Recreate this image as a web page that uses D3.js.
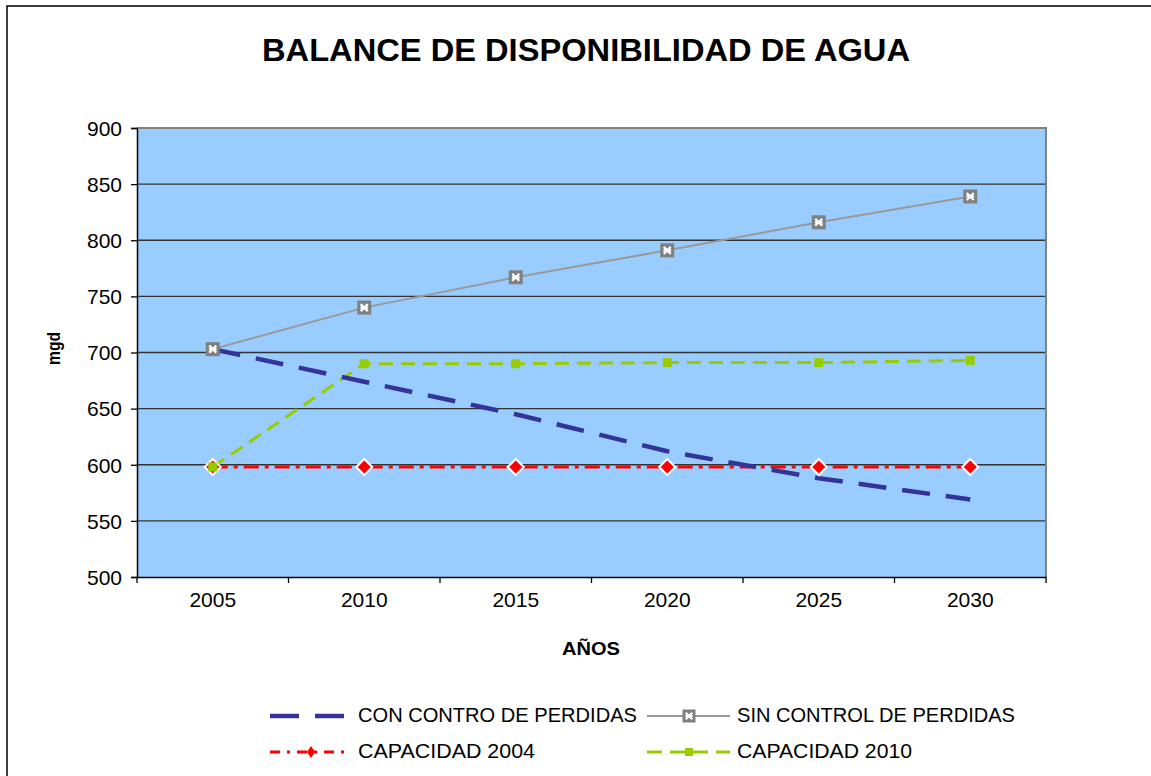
<!DOCTYPE html>
<html><head><meta charset="utf-8">
<script src="https://cdn.jsdelivr.net/npm/d3@7"></script>
<style>body{margin:0;background:#fff}svg{display:block}text{font-family:"Liberation Sans",Arial,sans-serif}</style>
</head><body>
<script>
const years = ["2005","2010","2015","2020","2025","2030"];
const conControl = [703, 674, 645, 612, 588, 569];
const sinControl = [703, 740, 767, 791, 816, 839];
const capacidad2004 = [598, 598, 598, 598, 598, 598];
const capacidad2010 = [598, 690, 690, 691, 691, 693];
const yTicks = [500,550,600,650,700,750,800,850,900];
const seriesNames = ["CON CONTRO DE PERDIDAS","SIN CONTROL DE PERDIDAS","CAPACIDAD 2004","CAPACIDAD 2010"];

const W=1151,H=776;
const svg=d3.select("body").append("svg").attr("width",W).attr("height",H);
// outer frame
svg.append("rect").attr("x",7).attr("y",6).attr("width",1200).attr("height",900)
  .attr("fill","#fff").attr("stroke","#000").attr("stroke-width",1.5);

const L=137,R=1046,T=128,B=577;
const x=d3.scaleBand().domain(years).range([L,R]);
const y=d3.scaleLinear().domain([500,900]).range([B,T]);

svg.append("rect").attr("x",L).attr("y",T).attr("width",R-L).attr("height",B-T).attr("fill","#99CCFF");
// gridlines
svg.append("g").selectAll("line").data(yTicks.slice(1,-1)).join("line")
  .attr("x1",L).attr("x2",R).attr("y1",d=>y(d)).attr("y2",d=>y(d))
  .attr("stroke","#333").attr("stroke-width",1.3);
// plot border top/right
svg.append("path").attr("d",`M${L},${T}H${R}V${B}`).attr("fill","none").attr("stroke","#808080").attr("stroke-width",2);

// axes
const yAxis=svg.append("g").attr("transform",`translate(${L},0)`)
  .call(d3.axisLeft(y).tickValues(yTicks).tickSize(6).tickPadding(9));
const xAxis=svg.append("g").attr("transform",`translate(0,${B})`)
  .call(d3.axisBottom(x).tickSize(0).tickPadding(30));
// x boundary ticks
svg.append("g").selectAll("line").data(d3.range(years.length+1)).join("line")
  .attr("x1",i=>L+i*x.step()).attr("x2",i=>L+i*x.step()).attr("y1",B).attr("y2",B+6)
  .attr("stroke","#000").attr("stroke-width",1.3);
[yAxis,xAxis].forEach(g=>{
  g.selectAll("text").attr("font-size",21).attr("fill","#000").attr("font-family","'Liberation Sans',Arial,sans-serif");
  g.selectAll(".domain").attr("stroke","#000").attr("stroke-width",1.5);
  g.selectAll(".tick line").attr("stroke","#000").attr("stroke-width",1.3);
});
yAxis.selectAll("text").attr("dy","0.35em");
xAxis.selectAll("text").attr("dy","0");

const cx=(i)=>x(years[i])+x.bandwidth()/2;
const line=d3.line().x((d,i)=>cx(i)).y(d=>y(d));

// CAPACIDAD 2004
svg.append("path").datum(capacidad2004).attr("d",line).attr("fill","none")
  .attr("stroke","#FF0000").attr("stroke-width",3).attr("stroke-dasharray","15,6,4,6");
// CAPACIDAD 2010
svg.append("path").datum(capacidad2010).attr("d",line).attr("fill","none")
  .attr("stroke","#99CC00").attr("stroke-width",3).attr("stroke-dasharray","14,8");
// SIN CONTROL
svg.append("path").datum(sinControl).attr("d",line).attr("fill","none")
  .attr("stroke","#999999").attr("stroke-width",2);
// CON CONTROL
svg.append("path").datum(conControl).attr("d",line).attr("fill","none")
  .attr("stroke","#333399").attr("stroke-width",4.5).attr("stroke-dasharray","28,16");

function diamond(g,cxp,cyp,r){
  g.append("path").attr("d",`M${cxp},${cyp-r}L${cxp+r},${cyp}L${cxp},${cyp+r}L${cxp-r},${cyp}Z`)
   .attr("fill","#FF0000").attr("stroke","#fff").attr("stroke-width",2);
}
function xsquare(g,cxp,cyp,s){
  g.append("rect").attr("x",cxp-s/2).attr("y",cyp-s/2).attr("width",s).attr("height",s).attr("fill","#808080");
  const k=s*0.25;
  g.append("path").attr("d",`M${cxp-k},${cyp-k}L${cxp+k},${cyp+k}M${cxp+k},${cyp-k}L${cxp-k},${cyp+k}M${cxp-k*1.1},${cyp}H${cxp+k*1.1}`)
   .attr("stroke","#fff").attr("stroke-width",2.2);
}
function gsquare(g,cxp,cyp,s){
  g.append("rect").attr("x",cxp-s/2).attr("y",cyp-s/2).attr("width",s).attr("height",s).attr("fill","#99CC00");
}
const mk=svg.append("g");
capacidad2004.forEach((v,i)=>diamond(mk,cx(i),y(v),8));
capacidad2010.forEach((v,i)=>gsquare(mk,cx(i),y(v),9));
sinControl.forEach((v,i)=>xsquare(mk,cx(i),y(v),14));

// title
svg.append("text").attr("x",586).attr("y",61).attr("text-anchor","middle")
  .attr("font-size",31).attr("font-weight","bold").attr("textLength",648).attr("lengthAdjust","spacingAndGlyphs")
  .text("BALANCE DE DISPONIBILIDAD DE AGUA");
// axis titles
svg.append("text").attr("x",591).attr("y",655).attr("text-anchor","middle")
  .attr("font-size",19).attr("font-weight","bold").attr("textLength",58).attr("lengthAdjust","spacingAndGlyphs").text("AÑOS");
svg.append("text").attr("transform","translate(60,348.5) rotate(-90)").attr("text-anchor","middle")
  .attr("font-size",18).attr("font-weight","bold").attr("textLength",33).attr("lengthAdjust","spacingAndGlyphs").text("mgd");

// legend
const lg=svg.append("g");
const leg=[
  {x0:270,x1:344,y:716,tx:358,tl:279,name:seriesNames[0],type:"con"},
  {x0:647,x1:730,y:716,tx:737,tl:278,name:seriesNames[1],type:"sin"},
  {x0:270,x1:351,y:752,tx:358,tl:177,name:seriesNames[2],type:"c04"},
  {x0:647,x1:730,y:752,tx:737,tl:175,name:seriesNames[3],type:"c10"}];
leg.forEach(d=>{
  const ln=lg.append("line").attr("x1",d.x0).attr("x2",d.x1).attr("y1",d.y).attr("y2",d.y).attr("fill","none");
  if(d.type==="con") ln.attr("stroke","#333399").attr("stroke-width",4.5).attr("stroke-dasharray","29,16");
  if(d.type==="sin"){ ln.attr("stroke","#999").attr("stroke-width",2); xsquare(lg,689,d.y,13); }
  if(d.type==="c04"){ ln.attr("stroke","#FF0000").attr("stroke-width",3).attr("stroke-dasharray","10,7,3,7");
    lg.append("path").attr("d",`M311,${d.y-6}L315,${d.y}L311,${d.y+6}L307,${d.y}Z`).attr("fill","#FF0000"); }
  if(d.type==="c10"){ ln.attr("stroke","#99CC00").attr("stroke-width",3).attr("stroke-dasharray","15,8"); gsquare(lg,689,d.y,8); }
  lg.append("text").attr("x",d.tx).attr("y",d.y+6).attr("font-size",21)
    .attr("textLength",d.tl).attr("lengthAdjust","spacingAndGlyphs").text(d.name);
});
</script>
</body></html>
